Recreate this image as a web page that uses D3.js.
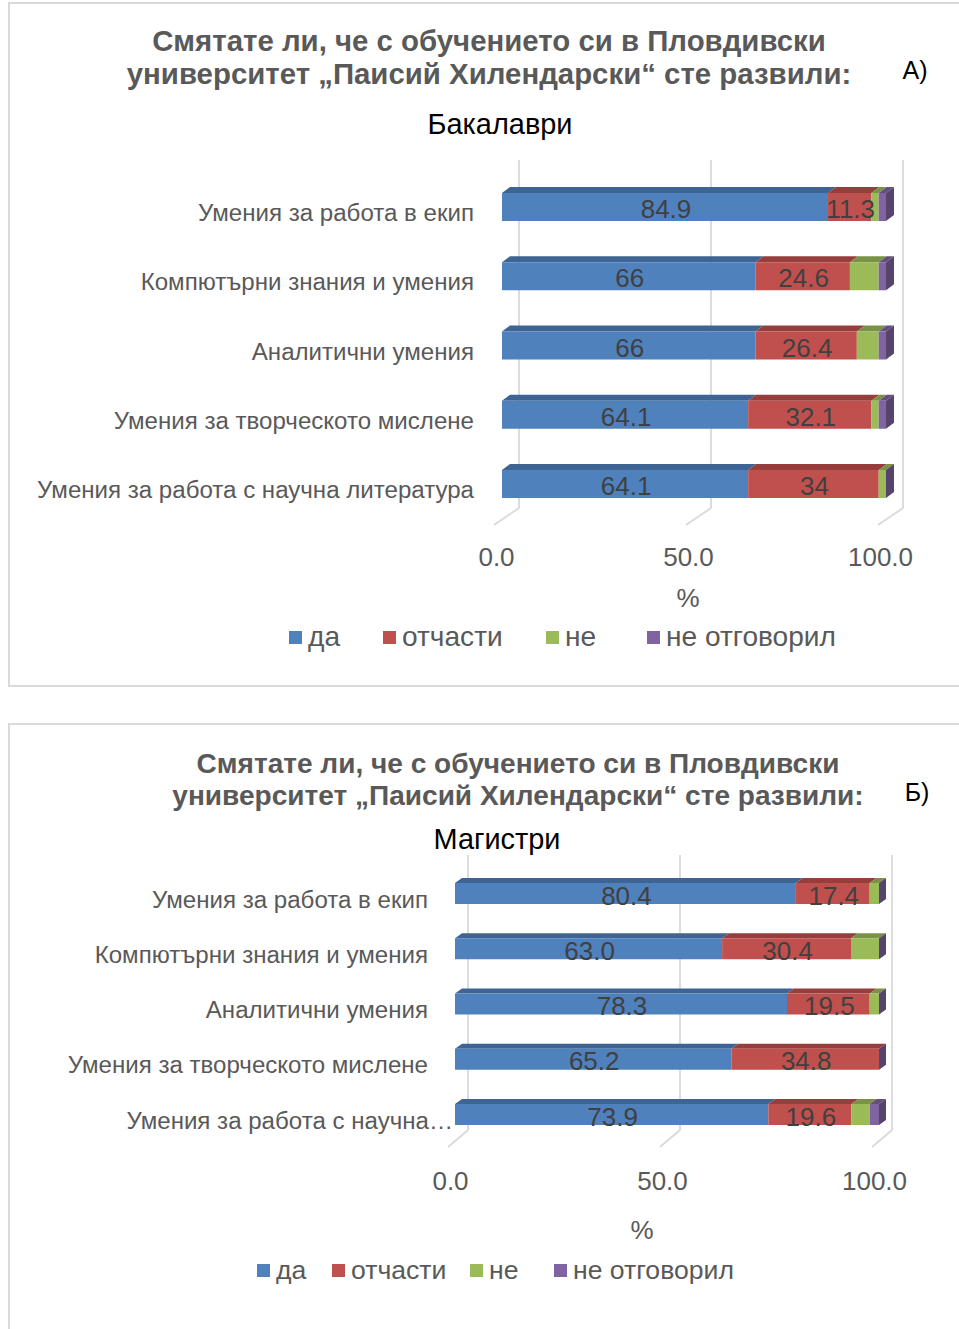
<!DOCTYPE html>
<html><head><meta charset="utf-8">
<script src="https://cdn.jsdelivr.net/npm/d3@7"></script>
<style>body{margin:0;background:#fff} svg{display:block} text{font-family:"Liberation Sans",Arial,sans-serif}</style>
</head><body><svg id="chart" width="959" height="1329"></svg>
<script>
// ---------- data ----------
const categories = ["Умения за работа в екип","Компютърни знания и умения","Аналитични умения","Умения за творческото мислене","Умения за работа с научна литература"];
const seriesNames = ["да","отчасти","не","не отговорил"];
const seriesColors = ["#4f81bd","#c0504d","#9bbb59","#8064a2"];
const titleLines = ["Смятате ли, че с обучението си в Пловдивски","университет „Паисий Хилендарски“ сте развили:"];
const tickValues = [0,50,100];
const axisTitle = "%";

const bachelorsYes      = [84.9, 66,   66,   64.1, 64.1];
const bachelorsPartly   = [11.3, 24.6, 26.4, 32.1, 34];
const bachelorsNo       = [1.9,  7.5,  5.7,  1.9,  1.9];
const bachelorsNoAnswer = [1.9,  1.9,  1.9,  1.9,  0];

const mastersYes      = [80.4, 63.0, 78.3, 65.2, 73.9];
const mastersPartly   = [17.4, 30.4, 19.5, 34.8, 19.6];
const mastersNo       = [2.2,  6.6,  2.2,  0,    4.3];
const mastersNoAnswer = [0,    0,    0,    0,    2.2];

// ---------- drawing ----------
const svg = d3.select("#chart");
svg.append("rect").attr("width",959).attr("height",1329).attr("fill","#fff");

function fitSize(text, weight, target){
  const t = svg.append("text").attr("font-size",100).attr("font-weight",weight).text(text);
  const w = t.node().getComputedTextLength(); t.remove();
  return 100*target/w;
}
const catFont = fitSize(categories[4], "normal", 437);

function drawChart(o){
  const g = svg.append("g");
  g.append("rect").attr("x",9).attr("y",o.panelTop).attr("width",980).attr("height",o.panelH)
    .attr("fill","#fff").attr("stroke","#d9d9d9").attr("stroke-width",2);

  const tfs = fitSize(titleLines[0],"bold",o.titleW);
  titleLines.forEach((l,i)=> g.append("text").attr("x",o.titleX).attr("y",o.titleY+i*o.titleLH)
    .attr("text-anchor","middle").attr("font-weight","bold").attr("font-size",tfs).attr("fill","#595959").text(l));
  g.append("text").attr("x",o.letterX).attr("y",o.letterY).attr("text-anchor","middle")
    .attr("font-size",25).attr("fill","#000").text(o.letter);
  g.append("text").attr("x",o.subX).attr("y",o.subY).attr("text-anchor","middle")
    .attr("font-size",fitSize(o.sub,"normal",o.subW)).attr("fill","#000").text(o.sub);

  const x = d3.scaleLinear().domain([0,100]).range([o.x0,o.x100]);
  const y = d3.scalePoint().domain(categories).range([o.yFirst,o.yLast]);

  // gridlines with floor
  tickValues.forEach(v=>{
    g.append("path").attr("d",`M${x(v)+o.gOff},${o.gTop}V${o.gBot}l${o.fdx},${o.fdy}`)
      .attr("fill","none").attr("stroke","#d9d9d9").attr("stroke-width",1.8);
  });

  // x axis tick labels
  const ax = g.append("g").attr("transform",`translate(${o.tickShift},${o.tickY})`)
    .call(d3.axisBottom(x).tickValues(tickValues).tickSize(0).tickFormat(d3.format(".1f")));
  ax.select(".domain").remove();
  ax.selectAll("text").attr("y",0).attr("dy",0).attr("font-size",26).attr("fill","#595959")
    .attr("font-family",'"Liberation Sans", Arial, sans-serif');
  g.append("text").attr("x",o.pctX).attr("y",o.pctY).attr("text-anchor","middle")
    .attr("font-size",26).attr("fill","#595959").text(axisTitle);

  // category labels
  categories.forEach(c=>{
    const t = g.append("text").attr("x",o.catX).attr("y",y(c)+14).attr("text-anchor","end")
      .attr("font-size",catFont).attr("fill","#595959").text(c);
    if (t.node().getComputedTextLength() > o.catMaxW){
      let words = c.split(" ");
      while (words.length>1){
        words.pop();
        t.text(words.join(" ")+"…");
        if (t.node().getComputedTextLength() <= o.catMaxW) break;
      }
      t.attr("x",o.truncX);
    }
  });

  // bars (3D stacked)
  const rows = categories.map((c,i)=>{
    const r = {cat:c};
    seriesNames.forEach((s,k)=> r[s] = o.data[k][i]);
    return r;
  });
  const stack = d3.stack().keys(seriesNames)(rows);
  const h = o.barH, dx = o.dx, dy = o.dy;
  stack.forEach((layer,k)=>{
    const col = seriesColors[k];
    layer.forEach(d=>{
      const x1 = x(d[0]), x2 = x(d[1]), yt = y(d.data.cat)-h/2;
      if (x2-x1 <= 0.01) return;
      g.append("path").attr("d",`M${x1},${yt}L${x1+dx},${yt-dy}L${x2+dx},${yt-dy}L${x2},${yt}Z`)
        .attr("fill",d3.color(col).darker(0.7));
      g.append("rect").attr("x",x1).attr("y",yt).attr("width",x2-x1).attr("height",h).attr("fill",col);
    });
  });
  // end faces
  const last = stack[stack.length-1];
  last.forEach(d=>{
    const xe = x(d[1]), yt = y(d.data.cat)-h/2;
    g.append("path").attr("d",`M${xe},${yt}L${xe+dx},${yt-dy}L${xe+dx},${yt+h-dy}L${xe},${yt+h}Z`)
      .attr("fill",d3.color(seriesColors[3]).darker(1.1));
  });
  // data labels for first two series
  stack.slice(0,2).forEach(layer=>{
    layer.forEach(d=>{
      const v = d[1]-d[0];
      g.append("text").attr("x",(x(d[0])+x(d[1]))/2+1).attr("y",y(d.data.cat)+11)
        .attr("text-anchor","middle").attr("font-size",26).attr("fill","#404040").text(o.fmt(v));
    });
  });

  // legend
  const lfs = fitSize(seriesNames[3],"normal",o.legW);
  seriesNames.forEach((s,k)=>{
    g.append("rect").attr("x",o.legX[k]).attr("y",o.legY-15).attr("width",13).attr("height",13).attr("fill",seriesColors[k]);
    g.append("text").attr("x",o.legX[k]+19).attr("y",o.legY).attr("font-size",lfs).attr("fill","#595959").text(s);
  });
}

drawChart({
  panelTop:3, panelH:683,
  titleX:489, titleY:51, titleLH:33, titleW:674,
  letter:"А)", letterX:915, letterY:79,
  sub:"Бакалаври", subX:500, subY:134, subW:145,
  x0:502, x100:886, yFirst:207, yLast:484, barH:28, dx:8, dy:6,
  gOff:17, gTop:160, gBot:508, fdx:-25, fdy:17,
  tickShift:-6, tickY:566, pctX:688, pctY:607,
  catX:474, catMaxW:1000, truncX:474,
  data:[bachelorsYes,bachelorsPartly,bachelorsNo,bachelorsNoAnswer],
  fmt:d3.format(""),
  legX:[289,383,546,647], legY:646, legW:170
});

drawChart({
  panelTop:724, panelH:700,
  titleX:518, titleY:773, titleLH:32, titleW:643,
  letter:"Б)", letterX:917, letterY:801,
  sub:"Магистри", subX:497, subY:849, subW:127,
  x0:455, x100:879, yFirst:893.5, yLast:1114.5, barH:21, dx:7, dy:5,
  gOff:13, gTop:855, gBot:1130, fdx:-20, fdy:17,
  tickShift:-5, tickY:1190, pctX:642, pctY:1239,
  catX:428, catMaxW:380, truncX:453,
  data:[mastersYes,mastersPartly,mastersNo,mastersNoAnswer],
  fmt:d3.format(".1f"),
  legX:[257,332,470,554], legY:1279, legW:161
});
</script></body></html>
